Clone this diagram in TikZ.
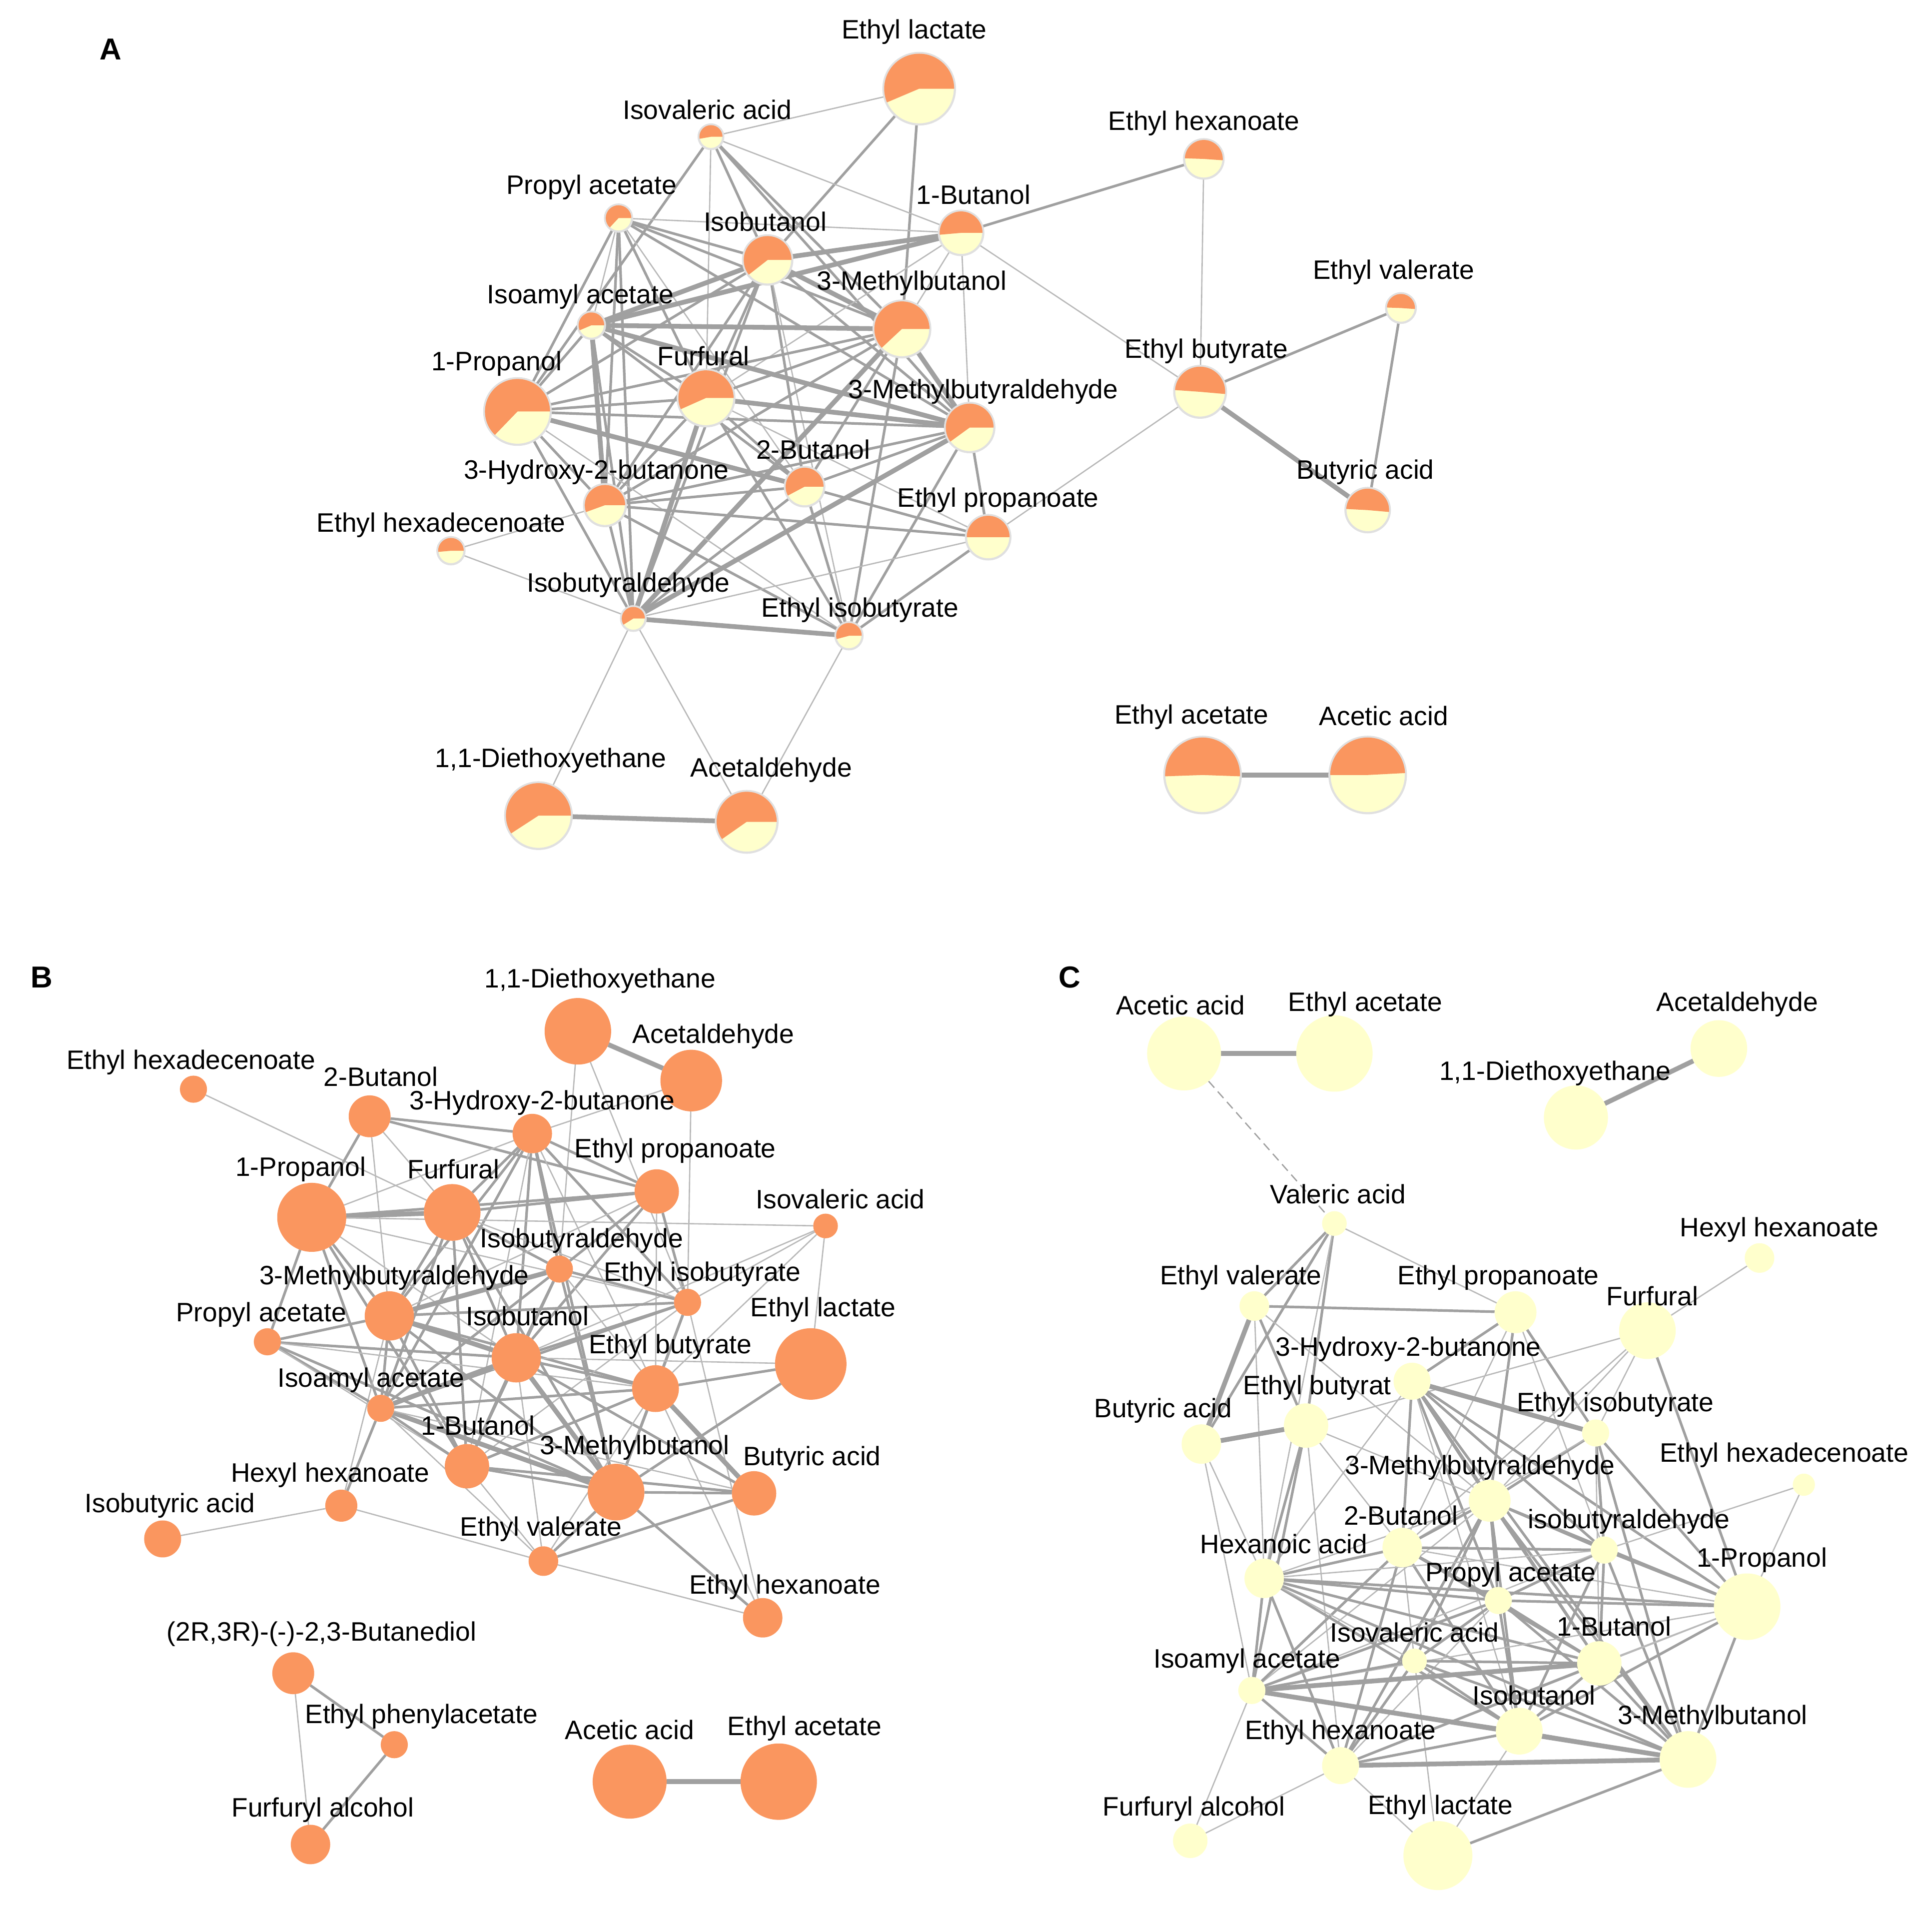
\documentclass[tikz,border=0pt]{standalone}
\usepackage{fontspec}
\newfontfamily\lsans{Liberation Sans}
\usetikzlibrary{backgrounds}
\pgfdeclarelayer{edgelayer}
\pgfsetlayers{edgelayer,main}
\definecolor{orA}{RGB}{250,150,95}
\definecolor{yelC}{RGB}{255,255,204}
\definecolor{edgeM}{RGB}{160,160,160}
\definecolor{edgeL}{RGB}{185,185,185}
\tikzset{
  lab/.style={font=\lsans\fontsize{6.15}{7}\selectfont, inner sep=0pt, text=black},
  plab/.style={font=\lsans\bfseries\fontsize{7}{8}\selectfont, inner sep=0pt},
  anode/.style={circle, inner sep=0pt, outer sep=0pt, fill=yelC, draw=black!12, line width=0.5pt},
  bnode/.style={circle, inner sep=0pt, outer sep=0pt, fill=orA},
  cnode/.style={circle, inner sep=0pt, outer sep=0pt, fill=yelC},
  et/.style={draw=edgeL, line width=0.3pt},
  em/.style={draw=edgeM, line width=0.6pt},
  ek/.style={draw=edgeM, line width=1.1pt},
}
\newcommand{\pienode}[9]{%
  \node[anode, minimum size={2*#4*0.01cm}] (#1) at (#2,-#3) {};
  \fill[orA] (#1.center) -- ++(#5:#4-0.6) arc[start angle=#5, end angle=#6, radius=#4-0.6] -- cycle;
  \node[lab] (#1l) at (#7,-#8) {#9};}
\newcommand{\dnode}[8]{%
  \node[#1, minimum size={2*#5*0.01cm}] (#2) at (#3,-#4) {};
  \node[lab] (#2l) at (#6,-#7) {#8};}
\newcommand{\E}[3]{\draw[#1] (#2) -- (#3);}
\begin{document}
\begin{tikzpicture}[x=0.01cm,y=0.01cm]
\useasboundingbox (0,0) rectangle (1568,-1549);
% ---------------- Panel A ----------------
\node[plab] (pA) at (90,-40) {A};
\pienode{aLac}{746}{72}{29}{0}{203}{742}{26}{Ethyl lactate}
\pienode{aIsoval}{577}{111}{10}{0}{190}{574}{89}{Isovaleric acid}
\pienode{aHexan}{977}{129}{16}{-4}{178}{977}{100}{Ethyl hexanoate}
\pienode{aProp}{502}{177}{11}{0}{227}{480}{152}{Propyl acetate}
\pienode{aBut1}{780}{189}{18}{0}{185}{790}{158}{1-Butanol}
\pienode{aIsobut}{623}{211}{20}{0}{218}{621}{180}{Isobutanol}
\pienode{aValer}{1137}{250}{12}{-4}{178}{1131}{221}{Ethyl valerate}
\pienode{aMBol}{732}{267}{23}{0}{223}{740}{230}{3-Methylbutanol}
\pienode{aIsoam}{480}{264}{11}{0}{203}{471}{241}{Isoamyl acetate}
\pienode{aEtBut}{974}{318}{21}{-5}{176}{979}{285}{Ethyl butyrate}
\pienode{aProp1}{420}{334}{27}{0}{226}{403}{295}{1-Propanol}
\pienode{aFurf}{573}{323}{23}{0}{204}{571}{289}{Furfural}
\pienode{aMBald}{787}{347}{20}{0}{216}{798}{318}{3-Methylbutyraldehyde}
\pienode{aBut2}{653}{395}{16}{0}{208}{660}{365}{2-Butanol}
\pienode{aHB}{491}{410}{17}{0}{200}{484}{383}{3-Hydroxy-2-butanone}
\pienode{aButyr}{1110}{414}{18}{-5}{177}{1108}{383}{Butyric acid}
\pienode{aEtProp}{802}{436}{18}{0}{180}{810}{406}{Ethyl propanoate}
\pienode{aHexadec}{366}{447}{11}{0}{185}{358}{426}{Ethyl hexadecenoate}
\pienode{aIBald}{514}{502}{10}{0}{212}{510}{475}{Isobutyraldehyde}
\pienode{aEtIsob}{689}{516}{11}{0}{195}{698}{495}{Ethyl isobutyrate}
\pienode{aDiet}{437}{662}{27}{0}{213}{447}{617}{1,1-Diethoxyethane}
\pienode{aAcet}{606}{667}{25}{0}{215}{626}{625}{Acetaldehyde}
\pienode{aEtAc}{976}{629}{31}{-2}{182}{967}{582}{Ethyl acetate}
\pienode{aAcAc}{1110}{629}{31}{3}{180}{1123}{581}{Acetic acid}
% ---------------- Panel B ----------------
\node[plab] (pB) at (34,-793) {B};
\dnode{bnode}{bDiet}{469}{837}{27}{487}{796}{1,1-Diethoxyethane}
\dnode{bnode}{bAcet}{561}{877}{25}{579}{841}{Acetaldehyde}
\dnode{bnode}{bHexadec}{157}{884}{11}{155}{862}{Ethyl hexadecenoate}
\dnode{bnode}{bBut2}{300}{906}{17}{309}{874}{2-Butanol}
\dnode{bnode}{bHB}{432}{920}{16}{440}{895}{3-Hydroxy-2-butanone}
\dnode{bnode}{bEtProp}{533}{967}{18}{548}{934}{Ethyl propanoate}
\dnode{bnode}{bProp1}{253}{988}{28}{244}{949}{1-Propanol}
\dnode{bnode}{bFurf}{367}{984}{23}{368}{949}{Furfural}
\dnode{bnode}{bIsoval}{670}{995}{10}{682}{973}{Isovaleric acid}
\dnode{bnode}{bIBald}{454}{1030}{11}{472}{1007}{Isobutyraldehyde}
\dnode{bnode}{bMBald}{316}{1068}{20}{320}{1037}{3-Methylbutyraldehyde}
\dnode{bnode}{bEtIsob}{558}{1057}{11}{570}{1034}{Ethyl isobutyrate}
\dnode{bnode}{bProp}{217}{1089}{11}{212}{1067}{Propyl acetate}
\dnode{bnode}{bIsobut}{419}{1102}{20}{428}{1068}{Isobutanol}
\dnode{bnode}{bLac}{658}{1107}{29}{668}{1063}{Ethyl lactate}
\dnode{bnode}{bEtBut}{532}{1127}{19}{544}{1093}{Ethyl butyrate}
\dnode{bnode}{bIsoam}{309}{1143}{11}{301}{1120}{Isoamyl acetate}
\dnode{bnode}{bBut1}{379}{1190}{18}{388}{1157}{1-Butanol}
\dnode{bnode}{bMBol}{500}{1211}{23}{515}{1175}{3-Methylbutanol}
\dnode{bnode}{bButyr}{612}{1212}{18}{659}{1184}{Butyric acid}
\dnode{bnode}{bHexyl}{277}{1222}{13}{268}{1197}{Hexyl hexanoate}
\dnode{bnode}{bIsobutyr}{132}{1249}{15}{138}{1222}{Isobutyric acid}
\dnode{bnode}{bValer}{441}{1267}{12}{439}{1241}{Ethyl valerate}
\dnode{bnode}{bHexan}{619}{1313}{16}{637}{1288}{Ethyl hexanoate}
\dnode{bnode}{bDiol}{238}{1358}{17}{261}{1326}{(2R,3R)-(-)-2,3-Butanediol}
\dnode{bnode}{bPhen}{320}{1416}{11}{342}{1393}{Ethyl phenylacetate}
\dnode{bnode}{bFurfOH}{252}{1497}{16}{262}{1469}{Furfuryl alcohol}
\dnode{bnode}{bAcAc}{511}{1446}{30}{511}{1404}{Acetic acid}
\dnode{bnode}{bEtAc}{632}{1446}{31}{653}{1403}{Ethyl acetate}
% ---------------- Panel C ----------------
\node[plab] (pC) at (868,-793) {C};
\dnode{cnode}{cAcAc}{961}{855}{30}{958}{816}{Acetic acid}
\dnode{cnode}{cEtAc}{1083}{855}{31}{1108}{815}{Ethyl acetate}
\dnode{cnode}{cAcet}{1395}{851}{23}{1410}{815}{Acetaldehyde}
\dnode{cnode}{cDiet}{1279}{907}{26}{1262}{871}{1,1-Diethoxyethane}
\dnode{cnode}{cValAc}{1083}{993}{10}{1086}{969}{Valeric acid}
\dnode{cnode}{cHexyl}{1428}{1021}{12}{1444}{998}{Hexyl hexanoate}
\dnode{cnode}{cValer}{1018}{1060}{12}{1007}{1037}{Ethyl valerate}
\dnode{cnode}{cEtProp}{1230}{1065}{17}{1216}{1037}{Ethyl propanoate}
\dnode{cnode}{cFurf}{1337}{1080}{23}{1341}{1052}{Furfural}
\dnode{cnode}{cEtBut}{1060}{1157}{18}{1069}{1126}{Ethyl butyrat}
\dnode{cnode}{cHB}{1146}{1121}{15}{1143}{1095}{3-Hydroxy-2-butanone}
\dnode{cnode}{cButyr}{975}{1172}{16}{944}{1145}{Butyric acid}
\dnode{cnode}{cEtIsob}{1295}{1163}{11}{1311}{1140}{Ethyl isobutyrate}
\dnode{cnode}{cHexadec}{1464}{1205}{9}{1448}{1181}{Ethyl hexadecenoate}
\dnode{cnode}{cMBald}{1209}{1218}{17}{1201}{1191}{3-Methylbutyraldehyde}
\dnode{cnode}{cBut2}{1138}{1256}{16}{1137}{1230}{2-Butanol}
\dnode{cnode}{cIBald}{1302}{1258}{11}{1322}{1235}{isobutyraldehyde}
\dnode{cnode}{cHexAc}{1026}{1281}{16}{1042}{1253}{Hexanoic acid}
\dnode{cnode}{cProp}{1216}{1299}{11}{1226}{1278}{Propyl acetate}
\dnode{cnode}{cProp1}{1418}{1304}{27}{1430}{1266}{1-Propanol}
\dnode{cnode}{cIsoval}{1148}{1348}{10}{1148}{1325}{Isovaleric acid}
\dnode{cnode}{cBut1}{1298}{1350}{18}{1310}{1320}{1-Butanol}
\dnode{cnode}{cIsoam}{1016}{1372}{11}{1012}{1348}{Isoamyl acetate}
\dnode{cnode}{cIsobut}{1233}{1405}{19}{1245}{1376}{Isobutanol}
\dnode{cnode}{cMBol}{1370}{1428}{23}{1390}{1394}{3-Methylbutanol}
\dnode{cnode}{cHexan}{1088}{1433}{15}{1088}{1406}{Ethyl hexanoate}
\dnode{cnode}{cFurfOH}{966}{1494}{14}{969}{1468}{Furfuryl alcohol}
\dnode{cnode}{cLac}{1167}{1506}{28}{1169}{1467}{Ethyl lactate}
% ---------------- Edges ----------------
\begin{pgfonlayer}{edgelayer}
\fill[white] (0,0) rectangle (1568,-1549);
% A
\E{et}{aLac}{aIsoval}\E{em}{aLac}{aIsobut}\E{em}{aLac}{aMBol}
\E{et}{aIsoval}{aBut1}\E{et}{aIsoval}{aFurf}\E{em}{aIsoval}{aIsobut}\E{em}{aIsoval}{aMBol}
\E{em}{aIsoval}{aMBald}\E{em}{aIsoval}{aProp1}
\E{em}{aProp}{aIsobut}\E{et}{aProp}{aBut1}\E{em}{aProp}{aMBol}\E{em}{aProp}{aMBald}
\E{em}{aProp}{aFurf}\E{em}{aProp}{aProp1}\E{em}{aProp}{aHB}\E{em}{aProp}{aIBald}
\E{et}{aProp}{aBut2}\E{et}{aProp}{aIsoam}
\E{ek}{aIsobut}{aBut1}\E{ek}{aIsobut}{aIsoam}\E{ek}{aIsobut}{aMBol}\E{em}{aIsobut}{aMBald}
\E{em}{aIsobut}{aFurf}\E{em}{aIsobut}{aProp1}\E{em}{aIsobut}{aHB}\E{em}{aIsobut}{aIBald}
\E{em}{aIsobut}{aBut2}\E{et}{aIsobut}{aEtIsob}
\E{ek}{aBut1}{aIsoam}\E{et}{aBut1}{aMBol}\E{et}{aBut1}{aMBald}\E{em}{aBut1}{aHexan}
\E{et}{aBut1}{aEtBut}\E{et}{aBut1}{aFurf}
\E{et}{aHexan}{aEtBut}\E{em}{aEtBut}{aValer}\E{ek}{aEtBut}{aButyr}\E{em}{aValer}{aButyr}
\E{et}{aEtBut}{aEtProp}
\E{ek}{aIsoam}{aMBol}\E{ek}{aIsoam}{aMBald}\E{em}{aIsoam}{aFurf}\E{em}{aIsoam}{aProp1}
\E{ek}{aIsoam}{aHB}\E{em}{aIsoam}{aIBald}\E{em}{aIsoam}{aBut2}
\E{ek}{aMBol}{aMBald}\E{em}{aMBol}{aFurf}\E{em}{aMBol}{aProp1}\E{em}{aMBol}{aBut2}
\E{ek}{aMBol}{aIBald}\E{em}{aMBol}{aEtIsob}\E{em}{aMBol}{aHB}
\E{em}{aProp1}{aFurf}\E{em}{aProp1}{aMBald}\E{ek}{aProp1}{aBut2}\E{em}{aProp1}{aHB}
\E{em}{aProp1}{aIBald}\E{et}{aProp1}{aEtIsob}
\E{ek}{aFurf}{aMBald}\E{em}{aFurf}{aBut2}\E{em}{aFurf}{aHB}\E{ek}{aFurf}{aIBald}
\E{em}{aFurf}{aEtIsob}\E{et}{aFurf}{aEtProp}
\E{em}{aMBald}{aBut2}\E{em}{aMBald}{aHB}\E{ek}{aMBald}{aIBald}\E{em}{aMBald}{aEtIsob}
\E{em}{aMBald}{aEtProp}
\E{em}{aBut2}{aHB}\E{em}{aBut2}{aEtProp}\E{em}{aBut2}{aEtIsob}\E{em}{aBut2}{aIBald}
\E{em}{aHB}{aEtProp}\E{et}{aHB}{aHexadec}\E{em}{aHB}{aIBald}\E{em}{aHB}{aEtIsob}
\E{et}{aEtProp}{aIBald}\E{em}{aEtProp}{aEtIsob}\E{et}{aHexadec}{aIBald}
\E{ek}{aIBald}{aEtIsob}\E{et}{aIBald}{aDiet}\E{et}{aIBald}{aAcet}\E{et}{aEtIsob}{aAcet}
\E{ek}{aDiet}{aAcet}\E{ek}{aEtAc}{aAcAc}
% B
\E{ek}{bDiet}{bAcet}\E{et}{bDiet}{bIBald}\E{et}{bDiet}{bEtIsob}\E{et}{bAcet}{bEtIsob}
\E{et}{bAcet}{bHB}\E{et}{bHexadec}{bFurf}
\E{em}{bBut2}{bHB}\E{em}{bBut2}{bEtProp}\E{em}{bBut2}{bProp1}\E{et}{bBut2}{bFurf}\E{et}{bBut2}{bMBald}
\E{em}{bHB}{bFurf}\E{et}{bHB}{bProp1}\E{em}{bHB}{bEtProp}\E{em}{bHB}{bIsobut}\E{em}{bHB}{bMBald}
\E{em}{bHB}{bIBald}\E{em}{bHB}{bEtIsob}\E{em}{bHB}{bMBol}\E{em}{bHB}{bIsoam}\E{et}{bHB}{bBut1}
\E{et}{bHB}{bEtBut}
\E{ek}{bProp1}{bFurf}\E{em}{bProp1}{bEtProp}\E{em}{bProp1}{bMBald}\E{em}{bProp1}{bProp}
\E{em}{bProp1}{bIsoam}\E{et}{bProp1}{bIsobut}\E{et}{bProp1}{bIsoval}\E{et}{bProp1}{bEtIsob}
\E{em}{bProp1}{bBut1}
\E{em}{bFurf}{bEtProp}\E{em}{bFurf}{bMBald}\E{em}{bFurf}{bIsobut}\E{em}{bFurf}{bIsoam}
\E{em}{bFurf}{bBut1}\E{em}{bFurf}{bMBol}\E{em}{bFurf}{bIBald}\E{et}{bFurf}{bEtIsob}
\E{em}{bEtProp}{bIBald}\E{em}{bEtProp}{bEtIsob}\E{et}{bEtProp}{bMBald}\E{em}{bEtProp}{bIsobut}
\E{et}{bEtProp}{bEtBut}
\E{et}{bIsoval}{bLac}\E{et}{bIsoval}{bEtIsob}\E{et}{bIsoval}{bEtBut}\E{et}{bIsoval}{bIsobut}
\E{ek}{bIBald}{bMBald}\E{em}{bIBald}{bIsobut}\E{em}{bIBald}{bEtIsob}\E{em}{bIBald}{bIsoam}
\E{em}{bIBald}{bBut1}\E{em}{bIBald}{bMBol}\E{et}{bIBald}{bEtBut}
\E{em}{bMBald}{bProp}\E{ek}{bMBald}{bIsobut}\E{em}{bMBald}{bIsoam}\E{em}{bMBald}{bBut1}
\E{em}{bMBald}{bMBol}\E{em}{bMBald}{bEtBut}\E{em}{bMBald}{bEtIsob}\E{et}{bMBald}{bHexyl}
\E{em}{bEtIsob}{bIsobut}\E{em}{bEtIsob}{bIsoam}\E{em}{bEtIsob}{bMBol}\E{em}{bEtIsob}{bEtBut}
\E{et}{bEtIsob}{bHexan}\E{et}{bEtIsob}{bBut1}
\E{em}{bProp}{bIsobut}\E{em}{bProp}{bIsoam}\E{et}{bProp}{bBut1}\E{em}{bProp}{bMBol}
\E{et}{bProp}{bEtBut}
\E{em}{bIsobut}{bEtBut}\E{ek}{bIsobut}{bIsoam}\E{em}{bIsobut}{bBut1}\E{ek}{bIsobut}{bMBol}
\E{em}{bIsobut}{bButyr}\E{et}{bIsobut}{bValer}\E{et}{bIsobut}{bLac}
\E{em}{bLac}{bEtBut}\E{em}{bLac}{bMBol}
\E{em}{bEtBut}{bIsoam}\E{em}{bEtBut}{bBut1}\E{em}{bEtBut}{bMBol}\E{ek}{bEtBut}{bButyr}
\E{et}{bEtBut}{bValer}\E{et}{bEtBut}{bHexan}
\E{em}{bIsoam}{bBut1}\E{ek}{bIsoam}{bMBol}\E{em}{bIsoam}{bHexyl}\E{et}{bIsoam}{bValer}
\E{et}{bIsoam}{bButyr}
\E{em}{bBut1}{bMBol}\E{et}{bBut1}{bValer}\E{em}{bBut1}{bButyr}
\E{em}{bMBol}{bButyr}\E{em}{bMBol}{bValer}\E{em}{bMBol}{bHexan}
\E{et}{bHexyl}{bIsobutyr}\E{et}{bHexyl}{bValer}\E{et}{bValer}{bHexan}\E{em}{bValer}{bButyr}
\E{em}{bDiol}{bPhen}\E{et}{bDiol}{bFurfOH}\E{em}{bPhen}{bFurfOH}\E{ek}{bAcAc}{bEtAc}
% C
\E{ek}{cAcAc}{cEtAc}
\draw[et, draw=edgeM, dash pattern=on 2pt off 1.2pt] (cAcAc) -- (cValAc);
\E{ek}{cDiet}{cAcet}\E{et}{cHexyl}{cFurf}
\E{em}{cValAc}{cValer}\E{em}{cValAc}{cEtBut}\E{em}{cValAc}{cButyr}\E{et}{cValAc}{cEtProp}
\E{et}{cValAc}{cHexAc}
\E{em}{cValer}{cEtProp}\E{ek}{cValer}{cButyr}\E{em}{cValer}{cEtBut}\E{et}{cValer}{cHexAc}
\E{et}{cValer}{cMBald}
\E{em}{cEtProp}{cHB}\E{em}{cEtProp}{cEtIsob}\E{em}{cEtProp}{cMBald}\E{et}{cEtProp}{cIBald}
\E{et}{cEtProp}{cBut2}
\E{et}{cFurf}{cEtBut}\E{et}{cFurf}{cEtIsob}\E{em}{cFurf}{cProp1}\E{et}{cFurf}{cMBald}
\E{et}{cFurf}{cBut2}
\E{ek}{cHB}{cEtIsob}\E{em}{cHB}{cMBald}\E{em}{cHB}{cBut2}\E{em}{cHB}{cIBald}\E{em}{cHB}{cProp}
\E{em}{cHB}{cProp1}\E{em}{cHB}{cBut1}\E{em}{cHB}{cMBol}\E{et}{cHB}{cIsobut}\E{et}{cHB}{cHexAc}
\E{ek}{cEtBut}{cButyr}\E{em}{cEtBut}{cHexAc}\E{et}{cEtBut}{cBut2}\E{et}{cEtBut}{cMBald}
\E{em}{cEtBut}{cIsoam}\E{et}{cEtBut}{cHexan}
\E{et}{cButyr}{cHexAc}\E{et}{cButyr}{cIsoam}
\E{em}{cEtIsob}{cMBald}\E{em}{cEtIsob}{cIBald}\E{em}{cEtIsob}{cProp1}\E{et}{cEtIsob}{cBut1}
\E{em}{cEtIsob}{cMBol}\E{et}{cEtIsob}{cBut2}
\E{et}{cHexadec}{cProp1}\E{et}{cHexadec}{cIBald}
\E{em}{cMBald}{cBut2}\E{em}{cMBald}{cIBald}\E{em}{cMBald}{cProp}\E{et}{cMBald}{cHexAc}
\E{em}{cMBald}{cIsoval}\E{em}{cMBald}{cBut1}\E{et}{cMBald}{cIsoam}\E{em}{cMBald}{cIsobut}
\E{em}{cMBald}{cMBol}\E{em}{cMBald}{cProp1}\E{em}{cMBald}{cHexan}
\E{em}{cBut2}{cHexAc}\E{em}{cBut2}{cProp}\E{em}{cBut2}{cIBald}\E{et}{cBut2}{cIsoval}
\E{em}{cBut2}{cIsoam}\E{em}{cBut2}{cIsobut}\E{em}{cBut2}{cBut1}\E{et}{cBut2}{cProp1}
\E{em}{cBut2}{cHexan}
\E{em}{cIBald}{cProp1}\E{em}{cIBald}{cProp}\E{em}{cIBald}{cBut1}\E{em}{cIBald}{cIsobut}
\E{em}{cIBald}{cMBol}\E{et}{cIBald}{cIsoam}\E{et}{cIBald}{cHexAc}
\E{em}{cHexAc}{cProp}\E{em}{cHexAc}{cProp1}\E{em}{cHexAc}{cBut1}\E{em}{cHexAc}{cIsobut}
\E{em}{cHexAc}{cMBol}\E{em}{cHexAc}{cIsoam}\E{em}{cHexAc}{cHexan}\E{et}{cHexAc}{cIsoval}
\E{em}{cProp}{cProp1}\E{em}{cProp}{cBut1}\E{em}{cProp}{cIsoval}\E{em}{cProp}{cIsobut}
\E{em}{cProp}{cMBol}\E{em}{cProp}{cIsoam}\E{et}{cProp}{cHexan}
\E{et}{cProp1}{cBut1}\E{em}{cProp1}{cIsobut}\E{em}{cProp1}{cMBol}\E{et}{cProp1}{cIsoam}
\E{et}{cProp1}{cHexan}
\E{em}{cIsoval}{cBut1}\E{em}{cIsoval}{cIsoam}\E{em}{cIsoval}{cIsobut}\E{em}{cIsoval}{cMBol}
\E{em}{cIsoval}{cHexan}\E{et}{cIsoval}{cLac}
\E{ek}{cBut1}{cIsoam}\E{em}{cBut1}{cIsobut}\E{em}{cBut1}{cMBol}\E{em}{cBut1}{cHexan}
\E{em}{cIsoam}{cIsobut}\E{ek}{cIsoam}{cMBol}\E{em}{cIsoam}{cHexan}\E{et}{cIsoam}{cFurfOH}
\E{em}{cIsobut}{cMBol}\E{em}{cIsobut}{cHexan}\E{et}{cIsobut}{cLac}
\E{ek}{cMBol}{cHexan}\E{em}{cMBol}{cLac}\E{et}{cHexan}{cFurfOH}\E{et}{cHexan}{cLac}
\end{pgfonlayer}
\end{tikzpicture}
\end{document}
